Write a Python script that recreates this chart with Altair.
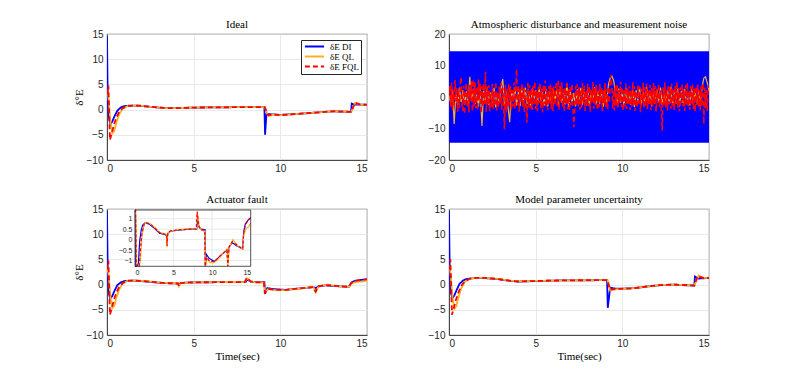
import altair as alt
import pandas as pd
import numpy as np

SERIES = ["δE DI", "δE QL", "δE FQL"]
COLORS = ["#0000FF", "#F5B324", "#FF0000"]
DASHES = [[1, 0], [1, 0], [5, 3]]
W, H = 260, 126
X_TICKS = [0, 5, 10, 15]
Y_TICKS_A = [-10, -5, 0, 5, 10, 15]
Y_TICKS_B = [-20, -10, 0, 10, 20]

# ---------------- Ideal ----------------
ID_DI_T = [0, 0.04, 0.1, 0.2, 0.3, 0.45, 0.6, 0.8, 1.0, 1.4, 1.9, 2.5, 3.0, 3.5, 4.2, 5.0, 6.5, 8.0, 9.08, 9.12, 9.2, 9.6, 10.0, 11.0, 12.0, 13.0, 14.08, 14.12, 14.3, 15.0]
ID_DI_V = [14.5, 3.0, -1.5, -2.9, -2.4, -1.2, -0.2, 0.45, 0.7, 0.8, 0.75, 0.55, 0.4, 0.3, 0.3, 0.4, 0.45, 0.5, 0.5, -5.0, -0.9, -0.95, -1.05, -0.85, -0.6, -0.35, -0.45, 1.2, 1.0, 0.95]
ID_QL_T = [0, 0.05, 0.12, 0.2, 0.31, 0.42, 0.55, 0.7, 0.9, 1.2, 1.5, 1.9, 2.5, 3.0, 3.5, 4.2, 5.0, 6.5, 8.0, 9.1, 9.3, 9.6, 10.0, 11.0, 12.0, 13.0, 14.1, 14.3, 14.6, 15.0]
ID_QL_V = [3.0, 3.5, 1.0, -2.5, -4.7, -4.2, -2.5, -1.0, 0.2, 0.7, 0.8, 0.78, 0.55, 0.4, 0.3, 0.3, 0.4, 0.45, 0.5, 0.5, -1.3, -1.0, -1.1, -0.85, -0.6, -0.35, -0.45, 1.3, 1.0, 1.0]
ID_FQL_T = [0, 0.08, 0.17, 0.28, 0.4, 0.55, 0.7, 0.9, 1.2, 1.5, 1.9, 2.5, 3.0, 3.5, 4.2, 5.0, 6.5, 8.0, 9.1, 9.3, 9.6, 10.0, 11.0, 12.0, 13.0, 14.1, 14.3, 14.6, 15.0]
ID_FQL_V = [3.0, 4.8, -6.0, -4.6, -3.0, -1.5, -0.5, 0.3, 0.7, 0.8, 0.78, 0.55, 0.4, 0.3, 0.3, 0.4, 0.45, 0.5, 0.5, -1.1, -1.0, -1.1, -0.85, -0.6, -0.35, -0.45, 1.4, 1.0, 1.0]

# ---------------- Atmospheric disturbance ----------------
AT_DI_T = [0, 15]
AT_DI_LO = [-14.5, -14.5]
AT_DI_HI = [14.5, 14.5]
AT_QL_V = [0.5, -2.0, 2.4, -8.6, 1.5, -2.8, 3.0, -1.6, 2.2, -2.5,
           1.8, -3.0, 6.4, -1.2, 2.6, -2.2, 1.0, -3.1, 2.8, -9.2,
           2.0, -1.5, 3.2, -2.6, 1.4, -2.0, 2.9, -3.3, 1.1, -1.8,
           2.5, 5.7, -2.4, 1.9, -3.0, -8.0, 2.2, -1.4, 3.1, -2.7,
           1.6, -2.9, 2.4, -1.9, 3.0, -2.3, 1.2, -3.2, 2.7, -1.5,
           2.1, -2.6, 3.3, -1.8, 1.5, -2.7, 2.6, -3.0, 1.9, -2.1,
           2.8, -1.6, 2.2, -2.8, 3.4, -1.9, 1.7, -2.4, 4.2, -3.5,
           2.0, -2.2, 1.3, -3.0, 2.5, -1.7, 2.9, -2.5, 1.6, -2.0,
           2.6, -2.9, 1.8, -1.4, 3.1, -2.6, 2.0, -2.2, 1.4, -3.1,
           2.2, -1.8, 4.0, 6.0, 6.6, 5.2, 1.5, -2.4, 2.7, -1.9,
           1.7, -2.8, 3.0, -2.0, 1.2, -2.5, 2.4, -3.2, 2.1, -1.6,
           2.9, -2.3, 1.5, -2.7, 3.2, -1.8, 2.0, -2.9, 1.6, -2.2,
           2.5, -1.7, 3.0, -2.6, 1.9, -2.4, 2.3, -1.5, 3.3, -2.8,
           1.6, -2.1, 2.8, -3.0, 2.0, -1.9, 2.6, -2.3, 1.4, -2.7,
           3.0, -1.8, 2.2, -2.5, 1.7, -2.9, 3.1, 6.0, 6.4, 4.5,
           2.0]
AT_FQL_V = [1.0, 3.5, -3.0, 4.6, -4.2, 2.1, -2.6, 5.4, -1.4, 3.0,
            -4.8, 2.2, -3.5, 4.0, 6.3, -2.0, -4.4, 3.6, -5.5, 1.8,
            4.5, -3.2, 2.6, -4.9, 3.9, -1.2, 5.0, -4.6, 5.5, -2.9,
            4.7, -3.6, 3.1, -4.1, 5.6, -0.8, 4.2, -5.2, 3.4, -3.3,
            4.4, -2.2, 8.0, -4.7, 3.3, -2.5, 3.7, -4.5, 1.3, -3.1,
            4.1, -3.9, 2.0, -2.8, 4.8, -4.3, 1.6, -3.6, 3.3, -2.3,
            4.4, -4.0, 2.9, -1.7, -10.2, 3.9, -4.9, 2.5, -3.2, 4.0,
            -2.7, 3.5, -4.4, 2.2, -3.0, 4.6, -3.8, 1.9, 8.9, -2.6,
            3.8, -4.6, 2.7, -1.5, 4.3, -3.4, 3.0, -4.8, 2.3, -2.1,
            -8.2, 4.5, -3.3, 3.7, -3.7, 2.8, -4.1, 3.6, -2.4, 4.9,
            -3.9, 2.1, -4.5, 3.2, -1.9, 4.6, -3.6, 2.6, -4.9, 3.9,
            -2.3, 5.2, -3.1, 2.4, -4.2, 3.5, -2.0, 4.1, -3.7, 2.9,
            -4.4, 3.3, -2.6, 3.0, 4.4, -3.0, 5.5, -4.1, 3.8, -1.8,
            4.7, -3.5, 2.5, -4.6, 3.0, -2.2, 5.0, -3.9, 2.7, -4.3,
            3.6, -2.5, 4.2, -3.2, -9.6, -4.7, 3.4, -2.6, 4.0, -2.9,
            3.1, -4.0, 2.4, -3.4, 4.5, -2.1, 3.6, -4.4, 2.0, -3.0,
            4.2, -2.8, 3.5, -4.7, 2.6, -1.6, 4.8, -3.7, 2.9, -2.5,
            3.9, -4.2, 1.8, -3.3, 4.1, -2.4, 3.2, -4.6, 2.5, -2.0,
            4.4, -3.1, 2.7, -4.0, 3.3, -1.9, 4.6, 7.0, 3.1, -3.6,
            2.2, -4.3, 3.7, -2.7, 4.0, -3.5, 2.3, -1.8, 4.9, -3.2,
            3.0, -4.5, 2.1, -2.9, 4.3, -3.8, 2.8, -2.2, 3.6, -4.1,
            2.4, -3.0, 4.7, -2.6, 3.4, -4.4, 1.9, -3.3, 4.0, -2.1,
            3.3, -4.8, 2.6, -1.7, 4.5, -3.6, 3.1, -2.8, 4.2, -3.9,
            2.0, -2.5, 3.8, -4.2, 2.9, -3.1, 4.4, -2.3, 3.5, -4.6,
            2.7, -2.0, 4.1, -3.4, 2.3, -4.0, -10.7, 3.0, -2.7, 4.6,
            -3.2, 2.5, -4.3, 3.9, -2.4, 3.2, -3.7, 4.3, -2.9, 2.1,
            -4.1, 3.6, -2.2, 4.8, -3.5, 2.8, -4.5, 3.1, -1.9, 4.0,
            -3.0, 2.4, -4.4, 3.7, -2.6, 4.5, -3.3, 2.2, -4.0, 3.4,
            -2.1, 4.2, -3.8, 2.9, -4.6, 3.3, -2.5, 4.1, -3.1, 2.6,
            -4.2, 3.5, -2.8, 4.4, -8.6, 3.0, -3.6, 2.3, -4.4, 3.8,
            1.5]
AT_QL_T = list(np.round(np.linspace(0, 15, len(AT_QL_V)), 3))
AT_FQL_T = list(np.round(np.linspace(0, 15, len(AT_FQL_V)), 3))

# ---------------- Actuator fault ----------------
AF_DI_T = [0, 0.04, 0.1, 0.18, 0.3, 0.45, 0.6, 0.8, 1.0, 1.3, 1.8, 2.5, 3.2, 3.8, 4.1, 4.15, 4.25, 4.6, 5.5, 7.0, 8.0, 8.08, 8.3, 8.6, 9.08, 9.12, 9.25, 9.6, 10.3, 11.0, 11.9, 12.05, 12.2, 12.6, 13.2, 13.95, 14.1, 14.3, 14.7, 15.0]
AF_DI_V = [14.5, 3.0, -1.5, -2.8, -2.3, -1.1, -0.1, 0.45, 0.7, 0.8, 0.75, 0.55, 0.3, 0.25, 0.2, 0.0, 0.3, 0.4, 0.45, 0.5, 0.5, 1.0, 0.6, 0.5, 0.48, -1.8, -0.7, -0.9, -1.05, -0.8, -0.5, -0.7, -0.35, -0.15, -0.3, -0.45, 0.4, 0.75, 0.95, 1.05]
AF_QL_T = [0, 0.05, 0.12, 0.2, 0.31, 0.42, 0.55, 0.7, 0.9, 1.2, 1.5, 2.0, 2.5, 3.2, 3.8, 4.1, 4.15, 4.25, 4.6, 5.5, 7.0, 7.95, 8.08, 8.3, 8.6, 9.05, 9.12, 9.3, 9.7, 10.3, 11.0, 11.9, 12.05, 12.2, 12.7, 13.3, 13.95, 14.1, 14.4, 14.7, 15.0]
AF_QL_V = [2.5, 3.2, 1.0, -2.5, -4.7, -4.2, -2.5, -1.0, 0.2, 0.75, 0.82, 0.75, 0.6, 0.35, 0.28, 0.25, -0.35, 0.3, 0.4, 0.47, 0.52, 0.5, 1.3, 0.6, 0.45, 0.4, -1.5, -0.9, -1.1, -1.1, -0.85, -0.45, -1.5, -0.4, 0.0, -0.3, -0.45, 0.2, 0.55, 0.6, 0.8]
AF_FQL_T = [0, 0.08, 0.17, 0.28, 0.4, 0.55, 0.7, 0.9, 1.2, 1.5, 2.0, 2.5, 3.2, 3.8, 4.1, 4.15, 4.25, 4.6, 5.5, 7.0, 7.95, 8.06, 8.3, 8.6, 9.05, 9.1, 9.3, 9.7, 10.3, 11.0, 11.9, 12.03, 12.2, 12.6, 13.2, 13.95, 14.1, 14.3, 14.7, 15.0]
AF_FQL_V = [3.0, 4.8, -6.0, -4.6, -3.0, -1.5, -0.5, 0.3, 0.75, 0.8, 0.75, 0.58, 0.33, 0.27, 0.25, -0.3, 0.32, 0.42, 0.46, 0.5, 0.5, 1.35, 0.6, 0.47, 0.45, -1.6, -0.85, -1.05, -1.05, -0.8, -0.5, -1.4, -0.35, -0.1, -0.25, -0.45, 0.35, 0.7, 0.95, 1.05]

# inset of the actuator-fault panel
INSET_X_DOMAIN = [0, 15]
INSET_Y_DOMAIN = [-1.28, 1.42]
INSET_X_TICKS = [0, 5, 10, 15]
INSET_Y_TICKS = [-1, -0.5, 0, 0.5, 1]

# ---------------- Model parameter uncertainty ----------------
MP_DI_T = [0, 0.04, 0.1, 0.19, 0.3, 0.45, 0.6, 0.8, 1.0, 1.5, 2.0, 2.8, 3.5, 4.0, 5.0, 6.0, 7.0, 8.0, 9.12, 9.16, 9.3, 9.6, 10.0, 10.7, 11.5, 12.2, 13.0, 14.15, 14.19, 14.4, 15.0]
MP_DI_V = [14.5, 3.0, -1.5, -2.7, -2.2, -1.0, 0.1, 0.8, 1.1, 1.3, 1.3, 1.1, 0.75, 0.6, 0.7, 0.8, 0.85, 0.85, 0.9, -4.6, -0.6, -0.8, -0.8, -0.7, -0.35, -0.1, 0.0, -0.2, 1.6, 1.2, 1.3]
MP_QL_T = [0, 0.05, 0.12, 0.2, 0.31, 0.42, 0.55, 0.7, 0.9, 1.2, 1.6, 2.0, 2.8, 3.5, 4.0, 5.0, 6.0, 7.0, 8.0, 9.15, 9.3, 9.7, 10.2, 10.7, 11.5, 12.2, 13.0, 14.15, 14.4, 14.7, 15.0]
MP_QL_V = [3.0, 3.5, 1.0, -2.5, -4.8, -4.3, -2.5, -0.8, 0.5, 1.2, 1.35, 1.35, 1.15, 0.8, 0.65, 0.72, 0.8, 0.85, 0.87, 0.9, -1.2, -0.9, -0.8, -0.7, -0.35, -0.1, 0.0, -0.2, 1.8, 1.3, 1.4]
MP_FQL_T = [0, 0.08, 0.17, 0.28, 0.4, 0.55, 0.7, 0.9, 1.2, 1.6, 2.0, 2.8, 3.5, 4.0, 5.0, 6.0, 7.0, 8.0, 9.15, 9.28, 9.6, 10.2, 10.7, 11.5, 12.2, 13.0, 14.15, 14.35, 14.7, 15.0]
MP_FQL_V = [3.0, 5.0, -6.0, -4.6, -3.0, -1.5, -0.3, 0.6, 1.2, 1.35, 1.35, 1.12, 0.78, 0.62, 0.7, 0.8, 0.85, 0.87, 0.9, -1.0, -0.85, -0.8, -0.7, -0.35, -0.1, 0.0, -0.2, 1.7, 1.3, 1.35]

AXIS_DARK = "#262626"
SERIF = "Liberation Serif"
SANS = "Liberation Sans"


def frame(t, v, s):
    return pd.DataFrame({"t": t, "v": v, "s": s})


def x_enc(show_title):
    kw = dict(orient="bottom", values=X_TICKS, grid=True, ticks=False, labelPadding=3)
    kw["title"] = "Time(sec)" if show_title else None
    if show_title:
        kw["titlePadding"] = 2
    return alt.X("t:Q", scale=alt.Scale(domain=[0, 15], nice=False, zero=False), axis=alt.Axis(**kw))


def y_enc(field, ydom, yticks, show_title):
    kw = dict(orient="left", values=yticks, grid=True, ticks=False, labelPadding=4)
    kw["title"] = "δ°E" if show_title else None
    if show_title:
        kw["titlePadding"] = 2
    return alt.Y(field, scale=alt.Scale(domain=ydom, nice=False, zero=False), axis=alt.Axis(**kw))


LEGEND = alt.Legend(title=None, orient="top-right", offset=6, fillColor="white",
                    strokeColor=AXIS_DARK, padding=2, symbolType="M-3.2,0L3.2,0", symbolSize=36,
                    symbolOffset=7, symbolStrokeWidth=2, labelFont=SERIF, labelFontSize=9,
                    labelColor="black", rowPadding=0, labelOffset=11, cornerRadius=0)


def color_enc(legend):
    return alt.Color("s:N", scale=alt.Scale(domain=SERIES, range=COLORS), legend=legend)


def dash_enc(legend, dashes=DASHES):
    return alt.StrokeDash("s:N", scale=alt.Scale(domain=SERIES, range=dashes), legend=legend)


def line_layers(series_list, ydom, yticks, show_x, show_y, legend, keys, dashes=DASHES, width=1.8):
    layers = []
    for (t, v), s in zip(series_list, keys):
        d = frame(t, v, s)
        layers.append(
            alt.Chart(d).mark_line(strokeWidth=width, clip=True).encode(
                x=x_enc(show_x), y=y_enc("v:Q", ydom, yticks, show_y),
                color=color_enc(legend), strokeDash=dash_enc(legend, dashes))
        )
    return layers


def title(text):
    return alt.Title(text, font=SERIF, fontSize=11, fontWeight="normal", color="black", offset=-1)


# Ideal panel
ideal = alt.layer(*line_layers(
    [(ID_DI_T, ID_DI_V), (ID_QL_T, ID_QL_V), (ID_FQL_T, ID_FQL_V)],
    [-10, 15], Y_TICKS_A, False, True, LEGEND, SERIES)).properties(width=W, height=H, title=title("Ideal"))

# Atmospheric panel
band = alt.Chart(pd.DataFrame({"t": AT_DI_T, "lo": AT_DI_LO, "hi": AT_DI_HI})).mark_area(color="#0000FF", opacity=1).encode(
    x=x_enc(False), y=y_enc("lo:Q", [-20, 20], Y_TICKS_B, False), y2="hi:Q")
atm_ql = line_layers([(AT_QL_T, AT_QL_V)], [-20, 20], Y_TICKS_B, False, False, None, SERIES[1:2], width=1.2)
atm_fql = line_layers([(AT_FQL_T, AT_FQL_V)], [-20, 20], Y_TICKS_B, False, False, None, SERIES[2:],
                      dashes=[[1, 0], [1, 0], [8, 2]], width=1.6)
atmos = alt.layer(band, *atm_ql, *atm_fql).properties(width=W, height=H, title=title("Atmospheric disturbance and measurement noise"))

# Actuator fault panel with inset
af_main = alt.layer(*line_layers(
    [(AF_DI_T, AF_DI_V), (AF_QL_T, AF_QL_V), (AF_FQL_T, AF_FQL_V)],
    [-10, 15], Y_TICKS_A, True, True, None, SERIES))

IX0, IX1 = 28, 143.7
IY0, IY1 = 57.3, 1
ix_scale = alt.Scale(domain=INSET_X_DOMAIN, range=[IX0, IX1], nice=False, zero=False)
iy_scale = alt.Scale(domain=INSET_Y_DOMAIN, range=[IY0, IY1], nice=False, zero=False, clamp=True)
ix_axis = alt.Axis(orient="bottom", offset=-(H - IY0), values=INSET_X_TICKS, grid=False, ticks=False,
                   domain=False, labelFontSize=7, labelPadding=2, title=None, format="~g")
iy_axis = alt.Axis(orient="left", offset=-IX0, values=INSET_Y_TICKS, grid=False, ticks=False,
                   domain=False, labelFontSize=7, labelPadding=3, title=None, format="~g")

box_df = pd.DataFrame({"t": [INSET_X_DOMAIN[0]], "t2": [INSET_X_DOMAIN[1]],
                       "v": [INSET_Y_DOMAIN[0]], "v2": [INSET_Y_DOMAIN[1]]})
inset_bg = alt.Chart(box_df).mark_rect(fill="white").encode(
    x=alt.X("t:Q", scale=ix_scale, axis=ix_axis), x2="t2:Q",
    y=alt.Y("v:Q", scale=iy_scale, axis=iy_axis), y2="v2:Q")
vgrid_df = pd.DataFrame({"t": INSET_X_TICKS[1:-1]})
vgrid_df["v"] = INSET_Y_DOMAIN[0]
vgrid_df["v2"] = INSET_Y_DOMAIN[1]
inset_vgrid = alt.Chart(vgrid_df).mark_rule(color="#e3e3e3", strokeWidth=0.8).encode(
    x=alt.X("t:Q", scale=ix_scale, axis=ix_axis), y=alt.Y("v:Q", scale=iy_scale, axis=iy_axis), y2="v2:Q")
hgrid_df = pd.DataFrame({"v": INSET_Y_TICKS})
hgrid_df["t"] = INSET_X_DOMAIN[0]
hgrid_df["t2"] = INSET_X_DOMAIN[1]
inset_hgrid = alt.Chart(hgrid_df).mark_rule(color="#e3e3e3", strokeWidth=0.8).encode(
    x=alt.X("t:Q", scale=ix_scale, axis=ix_axis), x2="t2:Q", y=alt.Y("v:Q", scale=iy_scale, axis=iy_axis))
inset_lines = []
for (t, v), c, dsh in zip([(AF_DI_T, AF_DI_V), (AF_QL_T, AF_QL_V), (AF_FQL_T, AF_FQL_V)], COLORS, [[1, 0], [1, 0], [3, 2]]):
    inset_lines.append(alt.Chart(frame(t, v, "x")).mark_line(strokeWidth=1.2, color=c, strokeDash=dsh).encode(
        x=alt.X("t:Q", scale=ix_scale, axis=ix_axis), y=alt.Y("v:Q", scale=iy_scale, axis=iy_axis)))
inset_border = alt.Chart(box_df).mark_rect(filled=False, stroke=AXIS_DARK, strokeWidth=0.8).encode(
    x=alt.X("t:Q", scale=ix_scale, axis=ix_axis), x2="t2:Q",
    y=alt.Y("v:Q", scale=iy_scale, axis=iy_axis), y2="v2:Q")
inset = alt.layer(inset_bg, inset_vgrid, inset_hgrid, *inset_lines, inset_border)

actuator = alt.layer(af_main, inset).resolve_scale(x="independent", y="independent").properties(
    width=W, height=H, title=title("Actuator fault"))

# Model parameter uncertainty panel
model = alt.layer(*line_layers(
    [(MP_DI_T, MP_DI_V), (MP_QL_T, MP_QL_V), (MP_FQL_T, MP_FQL_V)],
    [-10, 15], Y_TICKS_A, True, False, None, SERIES)).properties(width=W, height=H, title=title("Model parameter uncertainty"))

top = alt.hconcat(ideal, atmos, spacing=59).resolve_scale(color="independent", strokeDash="independent")
bottom = alt.hconcat(actuator, model, spacing=59).resolve_scale(color="independent", strokeDash="independent")
chart = alt.vconcat(top, bottom, spacing=19).resolve_scale(color="independent", strokeDash="independent").properties(
    padding={"left": 64, "top": 10, "right": 5, "bottom": 5}, background="white"
).configure_view(stroke=AXIS_DARK, strokeWidth=0.8).configure_axis(
    labelFont=SANS, labelFontSize=10, labelColor=AXIS_DARK, domainColor=AXIS_DARK, domainWidth=0.8,
    gridColor="#e3e3e3", gridWidth=0.8, titleFont=SERIF, titleFontSize=11, titleFontWeight="normal",
    titleColor="black"
).configure_title(font=SERIF, fontSize=11, fontWeight="normal", color="black")

chart.save("out.html", embed_options={"renderer": "svg", "actions": False})
